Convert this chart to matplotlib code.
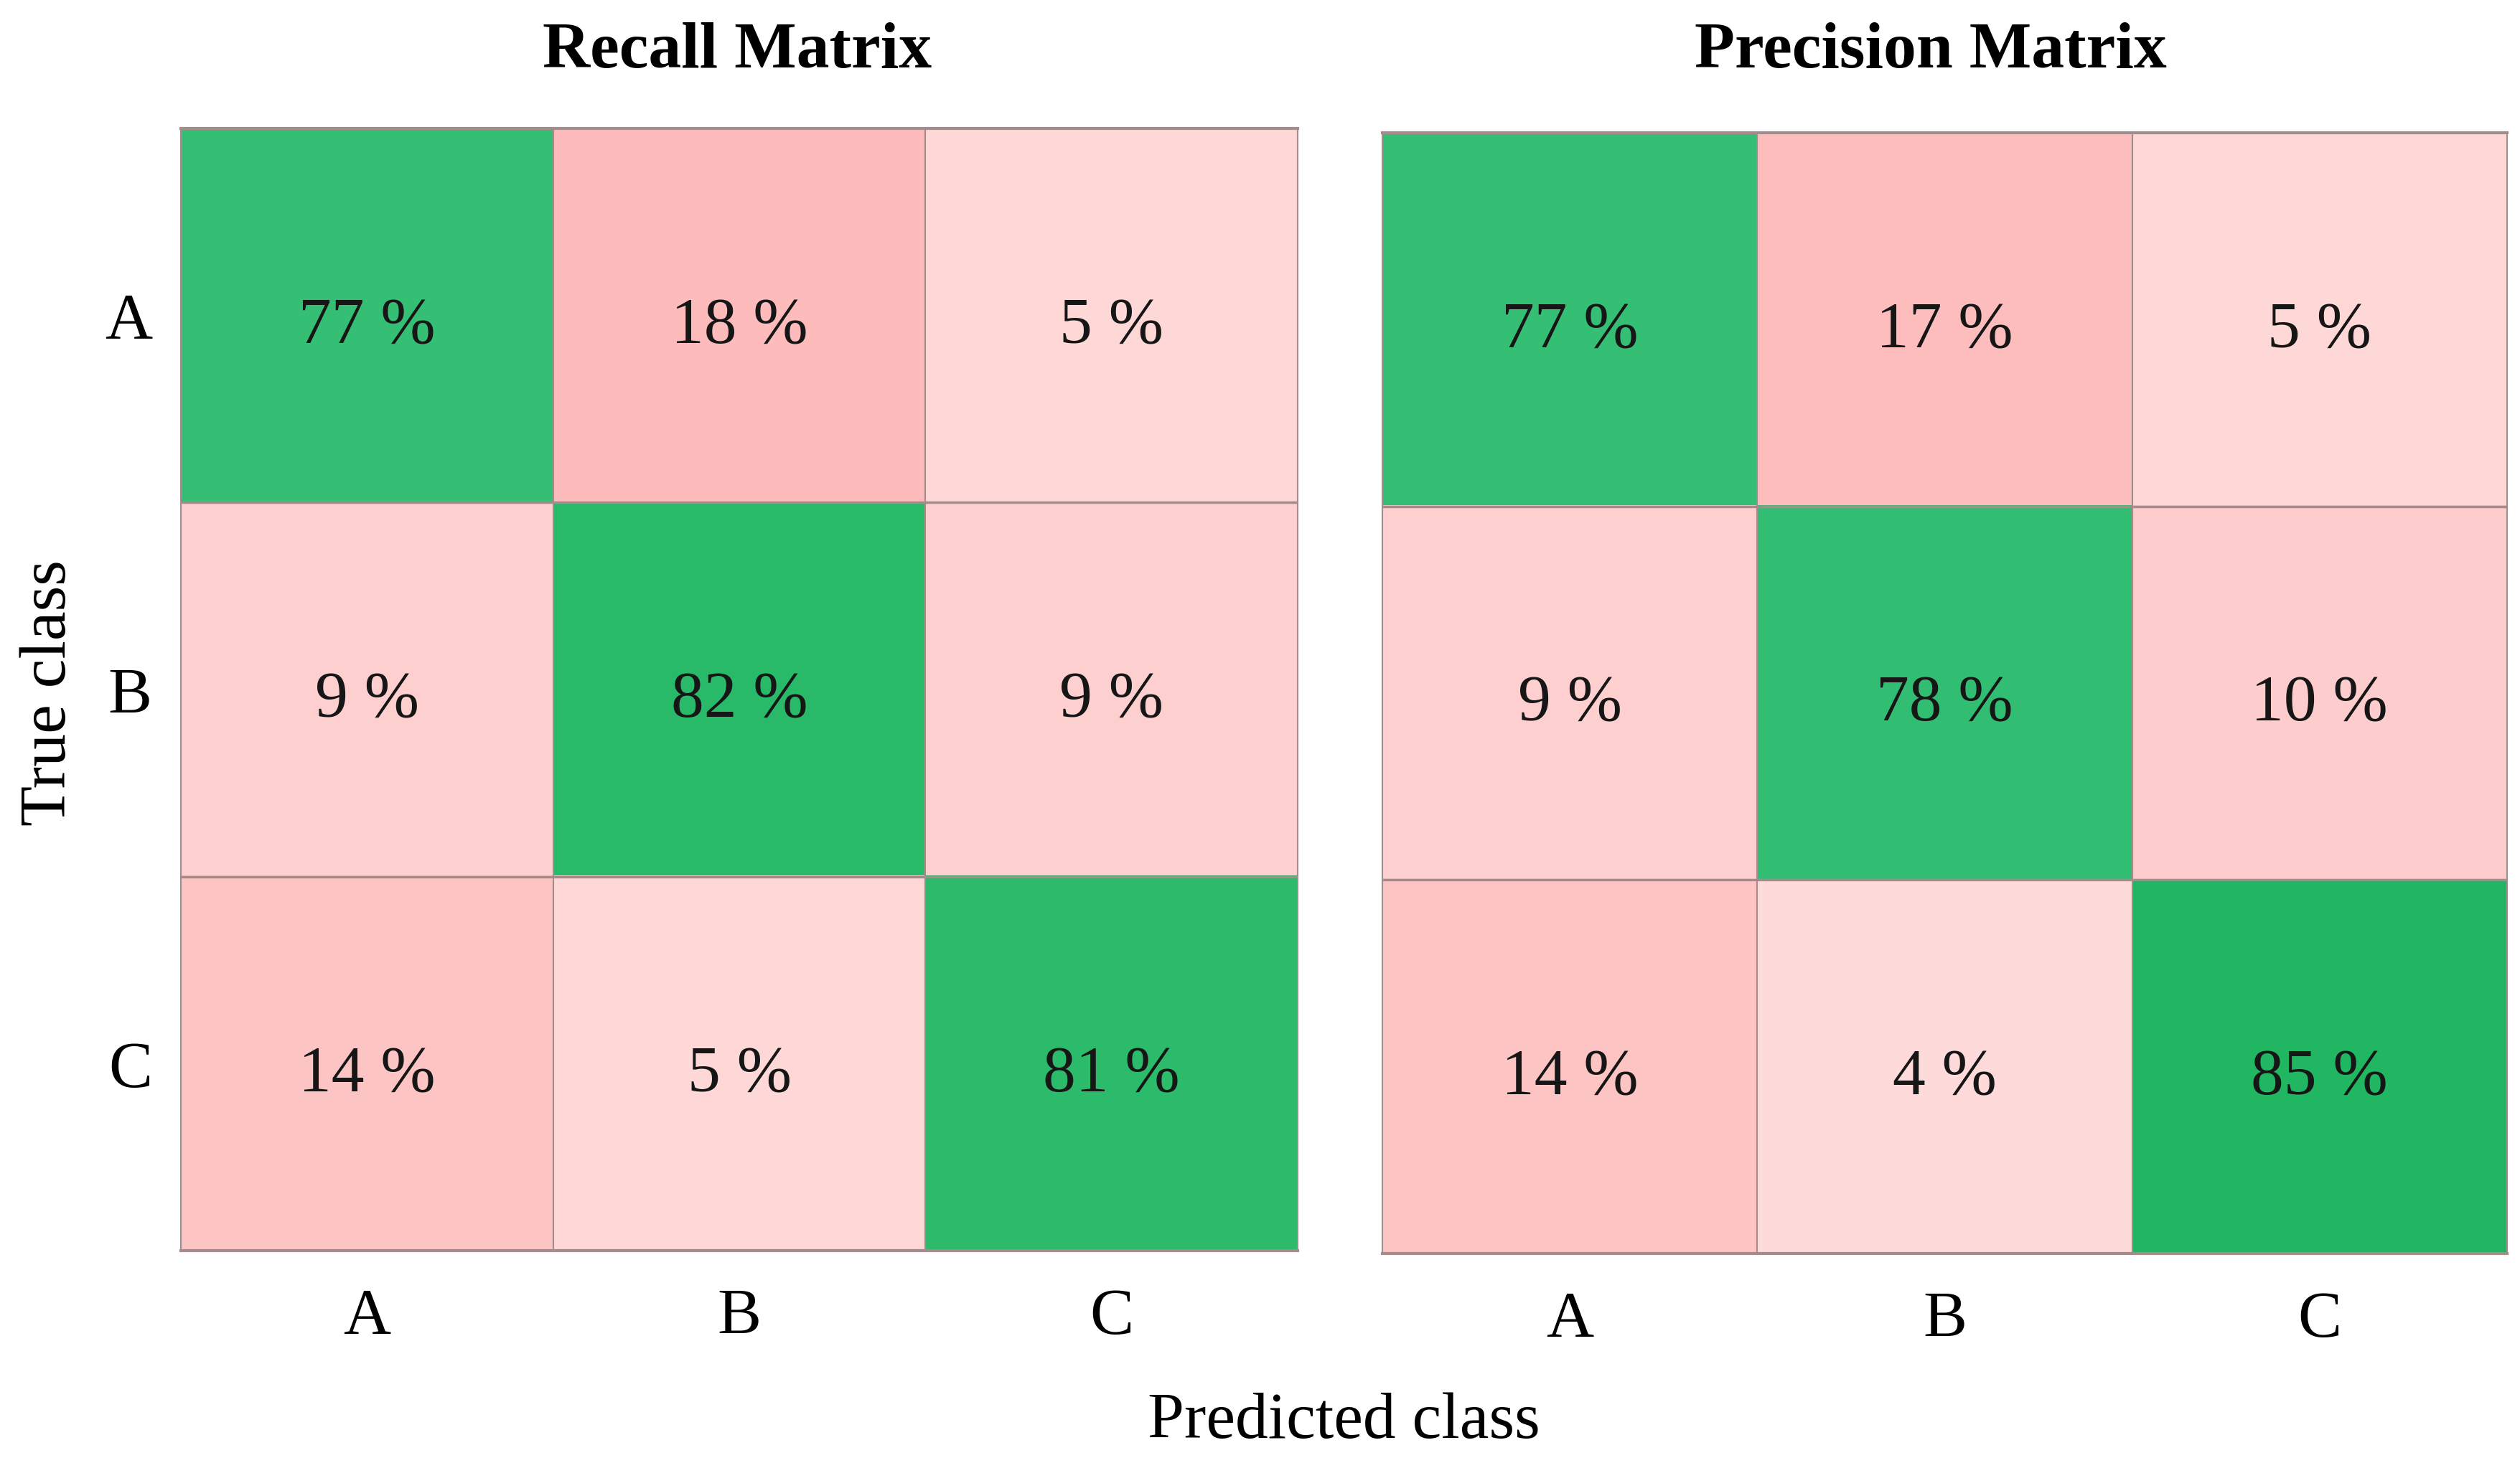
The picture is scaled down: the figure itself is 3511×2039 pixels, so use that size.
import numpy as np
import matplotlib
matplotlib.use("Agg")
import matplotlib.pyplot as plt
from matplotlib.colors import LinearSegmentedColormap, Normalize

# Data (percent)
classes = ["A", "B", "C"]
recall = [[77, 18, 5],
          [9, 82, 9],
          [14, 5, 81]]
precision = [[77, 17, 5],
             [9, 78, 10],
             [14, 4, 85]]
titles = ["Recall Matrix", "Precision Matrix"]

plt.rcParams["font.family"] = ["Liberation Serif", "DejaVu Serif"]
FS = 66

# Colour maps: pink for off-diagonal, green for diagonal
pink = LinearSegmentedColormap.from_list("pink", [(1.0, 227 / 255, 227 / 255), (253 / 255, 183 / 255, 183 / 255)])
green = LinearSegmentedColormap.from_list("green", [(70 / 255, 198 / 255, 132 / 255), (22 / 255, 178 / 255, 88 / 255)])
pink_norm = Normalize(0, 20)
green_norm = Normalize(70, 90)


def cell_colors(mat):
    mat = np.asarray(mat, dtype=float)
    rgb = np.zeros(mat.shape + (3,))
    for i in range(mat.shape[0]):
        for j in range(mat.shape[1]):
            if i == j:
                rgb[i, j] = green(green_norm(mat[i, j]))[:3]
            else:
                rgb[i, j] = pink(pink_norm(mat[i, j]))[:3]
    return rgb


fig = plt.figure(figsize=(35.12, 20.40), dpi=100)
ax_left = fig.add_axes([0.0718, 0.1451, 0.4430, 0.7667])
ax_right = fig.add_axes([0.5485, 0.1431, 0.4460, 0.7657])

line_col = "#a48c8c"
for ax, mat, title in zip([ax_left, ax_right], [recall, precision], titles):
    ax.imshow(cell_colors(mat), aspect="auto", interpolation="nearest")
    n = len(classes)
    for k in range(1, n):
        ax.axhline(k - 0.5, color=line_col, lw=2.5)
        ax.axvline(k - 0.5, color=line_col, lw=1.5)
    for i in range(n):
        for j in range(n):
            ax.text(j, i + 0.03, f"{mat[i][j]} %", ha="center", va="center",
                    fontsize=FS, color="#161616")
    ax.set_xticks(range(n))
    ax.set_xticklabels(classes, fontsize=FS)
    ax.set_yticks(range(n))
    ax.set_yticklabels(classes, fontsize=FS)
    ax.tick_params(length=0, pad=29)
    ax.tick_params(axis="x", pad=37)
    for side, sp in ax.spines.items():
        sp.set_color(line_col)
        sp.set_linewidth(3 if side in ("top", "bottom") else 1.5)

ax_right.set_yticklabels([])

fig.text(0.2924, 0.9647, titles[0], ha="center", va="center", fontsize=FS, fontweight="bold")
fig.text(0.766, 0.9647, titles[1], ha="center", va="center", fontsize=FS, fontweight="bold")
fig.text(0.533, 0.0284, "Predicted class", ha="center", va="center", fontsize=FS)
fig.text(0.0195, 0.5265, "True class", ha="center", va="center", fontsize=FS, rotation=90)

fig.savefig("out.png", dpi=100, facecolor="white")
